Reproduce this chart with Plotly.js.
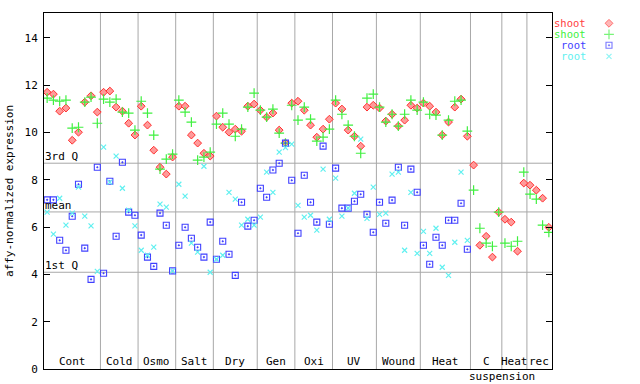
<!DOCTYPE html>
<html>
<head>
<meta charset="utf-8">
<script src="https://cdn.plot.ly/plotly-3.0.1.min.js"></script>
<style>html,body{margin:0;padding:0;background:#fff;}#chart{width:640px;height:384px;}</style>
</head>
<body>
<div id="chart"></div>
<script>
// ---- data ----
const categories = ["Cont","Cold","Osmo","Salt","Dry","Gen","Oxi","UV","Wound","Heat","C","Heat","rec"];
const catSizes   = [9,6,6,6,7,6,6,7,7,8,5,4,4];

const shootRed = [11.70,11.62,10.90,11.03,9.67,10.01,11.28,11.55,10.86,
  11.70,11.75,11.07,10.90,10.39,9.89,
  11.11,10.31,9.25,8.53,8.24,8.96,
  11.11,11.11,9.89,9.55,9.12,9.00,
  10.69,10.22,10.01,10.14,10.05,11.11,11.20,
  10.94,10.65,10.82,10.10,9.55,11.24,
  11.32,10.94,10.31,9.80,10.14,10.56,
  11.24,10.99,10.10,9.84,9.42,11.07,11.15,
  11.03,10.48,10.77,10.27,10.52,11.15,11.03,
  11.24,11.11,10.86,9.89,10.44,11.07,11.41,9.84,
  8.62,5.23,5.61,4.73,6.63,
  6.33,6.21,4.98,7.86,
  7.77,7.56,7.22,5.99];

const shootGreen = [11.45,11.37,11.32,11.37,10.18,10.22,11.28,11.49,10.39,
  11.41,11.28,11.41,10.86,10.82,10.10,
  11.32,10.82,9.89,8.45,8.87,9.08,
  11.37,10.86,10.44,8.83,8.96,9.17,
  10.35,10.82,10.35,9.84,10.14,11.07,11.66,
  10.94,10.65,10.99,9.97,9.55,11.15,
  10.52,11.07,10.56,9.63,9.80,10.14,
  11.37,10.77,10.31,9.84,9.12,11.45,11.62,
  11.07,10.44,10.77,10.27,10.77,11.37,10.94,
  11.28,10.77,10.73,9.89,10.52,11.32,11.37,10.06,
  7.56,5.95,5.32,5.19,6.63,
  5.32,5.19,5.40,8.32,
  7.39,7.18,6.08,5.78];

const rootBlue = [7.15,7.15,5.44,5.02,6.46,7.81,5.11,3.79,8.53,
  4.05,7.94,5.61,8.74,6.63,6.50,
  5.66,4.73,4.34,6.59,6.08,4.15,
  5.23,5.99,5.53,5.15,4.73,6.21,
  4.64,5.40,4.85,3.96,7.05,6.04,6.29,
  7.64,7.26,8.41,8.70,9.55,7.98,
  5.74,8.19,7.05,6.21,9.42,6.12,
  8.49,6.80,6.80,7.09,7.39,6.54,5.78,
  7.05,6.16,7.14,8.53,6.08,8.45,7.47,
  5.23,4.43,5.57,5.23,6.29,6.29,7.01,5.06,
  null,null,null,null,null,
  null,null,null,null,
  null,null,null,null];

const rootCyan = [6.63,5.70,7.22,6.08,6.59,7.69,6.46,6.05,4.13,
  9.38,7.90,9.00,7.64,6.71,6.05,
  5.02,4.81,5.15,6.97,6.84,4.15,
  7.81,7.31,5.32,4.94,8.57,4.09,
  4.64,4.81,7.47,7.18,6.08,6.33,6.08,
  6.42,8.32,7.47,9.17,9.36,9.51,
  6.92,6.42,6.50,5.87,8.45,6.33,
  8.07,6.46,6.80,7.43,9.72,6.37,7.69,
  6.54,6.59,8.24,8.32,5.02,7.47,4.89,
  5.82,4.89,5.95,4.30,3.96,5.36,8.32,5.44,
  null,null,null,null,null,
  null,null,null,null,
  null,null,null,null];

const refLines  = [8.70, 6.64, 4.09];
const refLabels = ["3rd Q", "mean", "1st Q"];
const yTickVals = [0,2,4,6,8,10,12,14];
const legendNames  = ["shoot","shoot","root","root"];

// ---- build ----
const N = shootRed.length;
const xs = shootRed.map((_, i) => i + 1);
const FONT = "DejaVu Sans Mono, monospace";
const colors = ["#ff4040", "#40f040", "#4040ff", "#60f0f0"];

const markerStyles = [
  {symbol: "diamond", size: 6, color: "#ff9a9a", line: {color: "#ff3030", width: 1}},
  {symbol: "cross-thin-open", size: 7, color: colors[1], line: {color: colors[1], width: 1.2}},
  {symbol: "square-open-dot", size: 6, color: colors[2], line: {color: colors[2], width: 1.1}},
  {symbol: "x-thin-open", size: 5, color: colors[3], line: {color: colors[3], width: 1.2}}
];
const series = [shootRed, shootGreen, rootBlue, rootCyan];

const traces = series.map((ys, k) => ({
  type: "scatter", mode: "markers", x: xs, y: ys,
  marker: markerStyles[k], showlegend: false, hoverinfo: "skip",
  xaxis: "x", yaxis: "y"
}));

// legend glyph trace on an auxiliary axis
traces.push({
  type: "scatter", mode: "markers",
  x: legendNames.map(() => 0),
  y: legendNames.map((_, k) => k),
  marker: {
    symbol: markerStyles.map(m => m.symbol),
    size: markerStyles.map(m => m.size),
    color: markerStyles.map(m => m.color),
    line: {color: markerStyles.map(m => m.line.color), width: markerStyles.map(m => m.line.width)}
  },
  xaxis: "x2", yaxis: "y2", showlegend: false, hoverinfo: "skip"
});

const plotW = 640 - 44;
const mainFrac = 508 / plotW;

const shapes = [];
let acc = 0;
catSizes.forEach((s, k) => {
  acc += s;
  if (k < catSizes.length - 1) {
    shapes.push({type: "line", xref: "x", yref: "y domain", x0: acc + 0.5, x1: acc + 0.5, y0: 0, y1: 1,
      line: {color: "#a8a8a8", width: 1}, layer: "below"});
  }
});
refLines.forEach(v => shapes.push({type: "line", xref: "x", yref: "y", x0: 0.5, x1: N + 0.5, y0: v, y1: v,
  line: {color: "#a8a8a8", width: 1}, layer: "below"}));

const annotations = [];
acc = 0;
catSizes.forEach((s, k) => {
  const c = acc + (s + 1) / 2;
  annotations.push({xref: "x", yref: "y", x: c, y: 0, yanchor: "bottom", xanchor: "center",
    text: categories[k], showarrow: false, font: {family: FONT, size: 11, color: "#000"}, yshift: -1});
  if (categories[k] === "C") {
    annotations.push({xref: "x", yref: "y", x: acc + s + 0.5, y: 0, yanchor: "top", xanchor: "center",
      text: "suspension", showarrow: false, font: {family: FONT, size: 11, color: "#000"}, yshift: 1});
  }
  acc += s;
});
refLines.forEach((v, k) => annotations.push({xref: "x", yref: "y", x: 0.5, y: v, xanchor: "left", yanchor: "bottom",
  text: refLabels[k], showarrow: false, font: {family: FONT, size: 11, color: "#000"}, yshift: -2, xshift: -1}));
legendNames.forEach((t, k) => annotations.push({xref: "x2", yref: "y2", x: 0, y: k, xanchor: "right", yanchor: "middle",
  text: t, showarrow: false, font: {family: FONT, size: 10.5, color: colors[k]}, xshift: -22, borderpad: 0}));

const layout = {
  width: 640, height: 384,
  margin: {l: 44, r: 0, t: 13, b: 15, pad: 0},
  paper_bgcolor: "#fff", plot_bgcolor: "#fff",
  showlegend: false,
  font: {family: FONT, size: 11, color: "#000"},
  xaxis: {domain: [0, mainFrac], range: [0.5, N + 0.5], showticklabels: false, ticks: "",
    showgrid: false, zeroline: false, showline: true, linecolor: "#000", linewidth: 1, mirror: true, fixedrange: true},
  yaxis: {range: [0, 15.05], tickvals: yTickVals, ticks: "inside", ticklen: 6, tickcolor: "#000",
    showgrid: false, zeroline: false, showline: true, linecolor: "#000", linewidth: 1, mirror: "ticks",
    tickfont: {family: FONT, size: 11, color: "#000"}, ticklabelstandoff: 3,
    title: {text: "affy-normalized expression", font: {family: FONT, size: 11, color: "#000"}, standoff: 8}},
  xaxis2: {domain: [mainFrac + 0.01, 1], anchor: "y2", visible: false, fixedrange: true},
  yaxis2: {domain: [0, 1], anchor: "x2", visible: false, fixedrange: true},
  shapes: shapes,
  annotations: annotations
};
// legend axis: rows at 23.3, 34.3, 45.3, 56.3 px from page top (11 px apart) inside a 356 px tall domain
const rowPx = 11, firstRowPx = 23.3 - 13;
layout.yaxis2.range = [ (356 - firstRowPx) / rowPx, -firstRowPx / rowPx ];
// x2: glyphs at x = 609 px
const x2Left = 44 + (mainFrac + 0.01) * plotW;
layout.xaxis2.range = [x2Left - 609, 640 - 609];

Plotly.newPlot("chart", traces, layout, {staticPlot: true, displayModeBar: false});
</script>
</body>
</html>
